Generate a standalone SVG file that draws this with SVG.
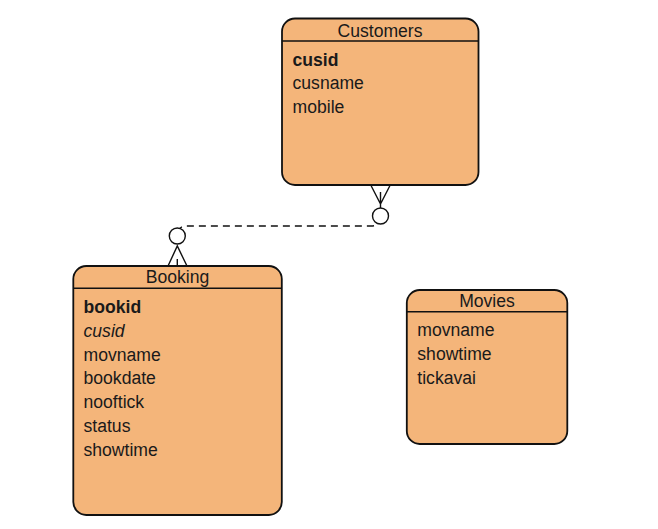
<svg xmlns="http://www.w3.org/2000/svg" width="658" height="529" viewBox="0 0 658 529">
<style>
.box{fill:#F4B57A;stroke:#111;stroke-width:1.8}
.sep{stroke:#111;stroke-width:1.5}
text{font-family:"Liberation Sans",Arial,sans-serif;font-size:17.6px;fill:#1a1a1a}
.t{text-anchor:middle}
.b{font-weight:bold}
.i{font-style:italic}
.ln{fill:none;stroke:#111;stroke-width:1.4}
.dash{fill:none;stroke:#111;stroke-width:1.4;stroke-dasharray:7 5}
.c{fill:#fff;stroke:#111;stroke-width:1.4}
</style>
<rect width="658" height="529" fill="#fff"/>
<g id="connectors">
<path class="dash" d="M177 244 L177 236 Q177 226 187 226 L371 226 Q381 226 381 216"/>
<path class="ln" d="M371 185.5 L380.5 204 L390 185.5 M380.5 192 L380.5 208"/>
<circle class="c" cx="380.5" cy="216" r="8"/>
<path class="ln" d="M168 266 L177.3 246 L187 266 M177.3 259 L177.3 266"/>
<circle class="c" cx="177.3" cy="236" r="8"/>
</g>
<g id="customers">
<rect class="box" x="282" y="18.5" width="196.5" height="166.5" rx="13"/>
<line class="sep" x1="282" y1="41" x2="478.5" y2="41"/>
<text class="t" x="380" y="36.5">Customers</text>
<text class="b" x="292.5" y="65.7">cusid</text>
<text x="292.5" y="89.3">cusname</text>
<text x="292.5" y="112.9">mobile</text>
</g>
<g id="booking">
<rect class="box" x="73.3" y="266" width="208.5" height="249" rx="13"/>
<line class="sep" x1="73.3" y1="288.3" x2="281.8" y2="288.3"/>
<text class="t" x="177.5" y="283.3">Booking</text>
<text class="b" x="83.5" y="312.7">bookid</text>
<text class="i" x="83.5" y="336.6">cusid</text>
<text x="83.5" y="360.5">movname</text>
<text x="83.5" y="384.4">bookdate</text>
<text x="83.5" y="408.3">nooftick</text>
<text x="83.5" y="432.2">status</text>
<text x="83.5" y="456.1">showtime</text>
</g>
<g id="movies">
<rect class="box" x="406.8" y="290" width="160.5" height="154" rx="13"/>
<line class="sep" x1="406.8" y1="311.7" x2="567.3" y2="311.7"/>
<text class="t" x="487" y="306.7">Movies</text>
<text x="417.3" y="336">movname</text>
<text x="417.3" y="360">showtime</text>
<text x="417.3" y="384">tickavai</text>
</g>
</svg>
